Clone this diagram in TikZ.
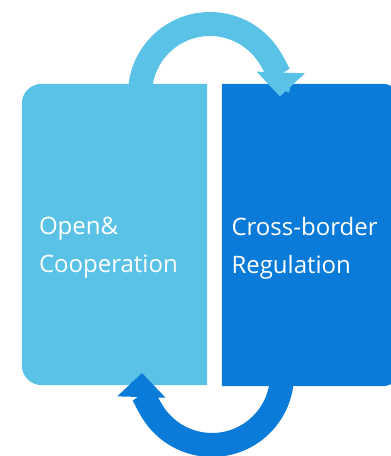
\documentclass[tikz,border=0pt]{standalone}
\usepackage{fontspec}
\setmainfont{Open Sans}
\usetikzlibrary{arrows.meta, calc, positioning}
\definecolor{skyblue}{HTML}{5BC2E7}
\definecolor{deepblue}{HTML}{0A7BD8}
\tikzset{
    panel/.style={
        rectangle,
        inner sep=0pt,
        minimum width=185pt,
        minimum height=301pt
    },
    paneltext/.style={
        font=\fontsize{24}{38}\selectfont,
        text=white,
        align=left,
        inner sep=0pt
    },
    cyclearrow/.style={
        line width=24pt,
        -{Triangle[length=24pt, width=47pt]}
    }
}

\begin{document}
\begin{tikzpicture}[x=1pt, y=1pt]

\clip (0,0) rectangle (391,456);

\node[panel] (open) at (114.5,221.5) {};
\node[panel, minimum width=180pt, minimum height=302pt] (cross) at (312,221) {};

% panels, rounded on the outer side only
\fill[skyblue] (open.north) [rounded corners=20pt] -- (open.north west) -- (open.south west) -- (open.south) [sharp corners] -- (open.south east) -- (open.north east) -- cycle;
\fill[deepblue] (cross.north) [rounded corners=20pt] -- (cross.north east) -- (cross.south east) -- (cross.south) [sharp corners] -- (cross.south west) -- (cross.north west) -- cycle;

\node[paneltext, anchor=north west] (opentxt) at ([shift={(17,17.5)}]open.west) {Open\&\\Cooperation};
\node[paneltext, anchor=north west] (crosstxt) at ([shift={(9.5,18)}]cross.west) {Cross-border\\Regulation};

% hubs of the two turning arrows
\coordinate (tophub) at (210,362);
\coordinate (bothub) at (212,81);

\draw[cyclearrow, skyblue] ($(tophub)+(187:70)$) arc[start angle=187, end angle=-2, radius=70];
\draw[cyclearrow, deepblue] ($(bothub)+(5:70)$) arc[start angle=5, end angle=-181.6, radius=70];

\end{tikzpicture}
\end{document}
